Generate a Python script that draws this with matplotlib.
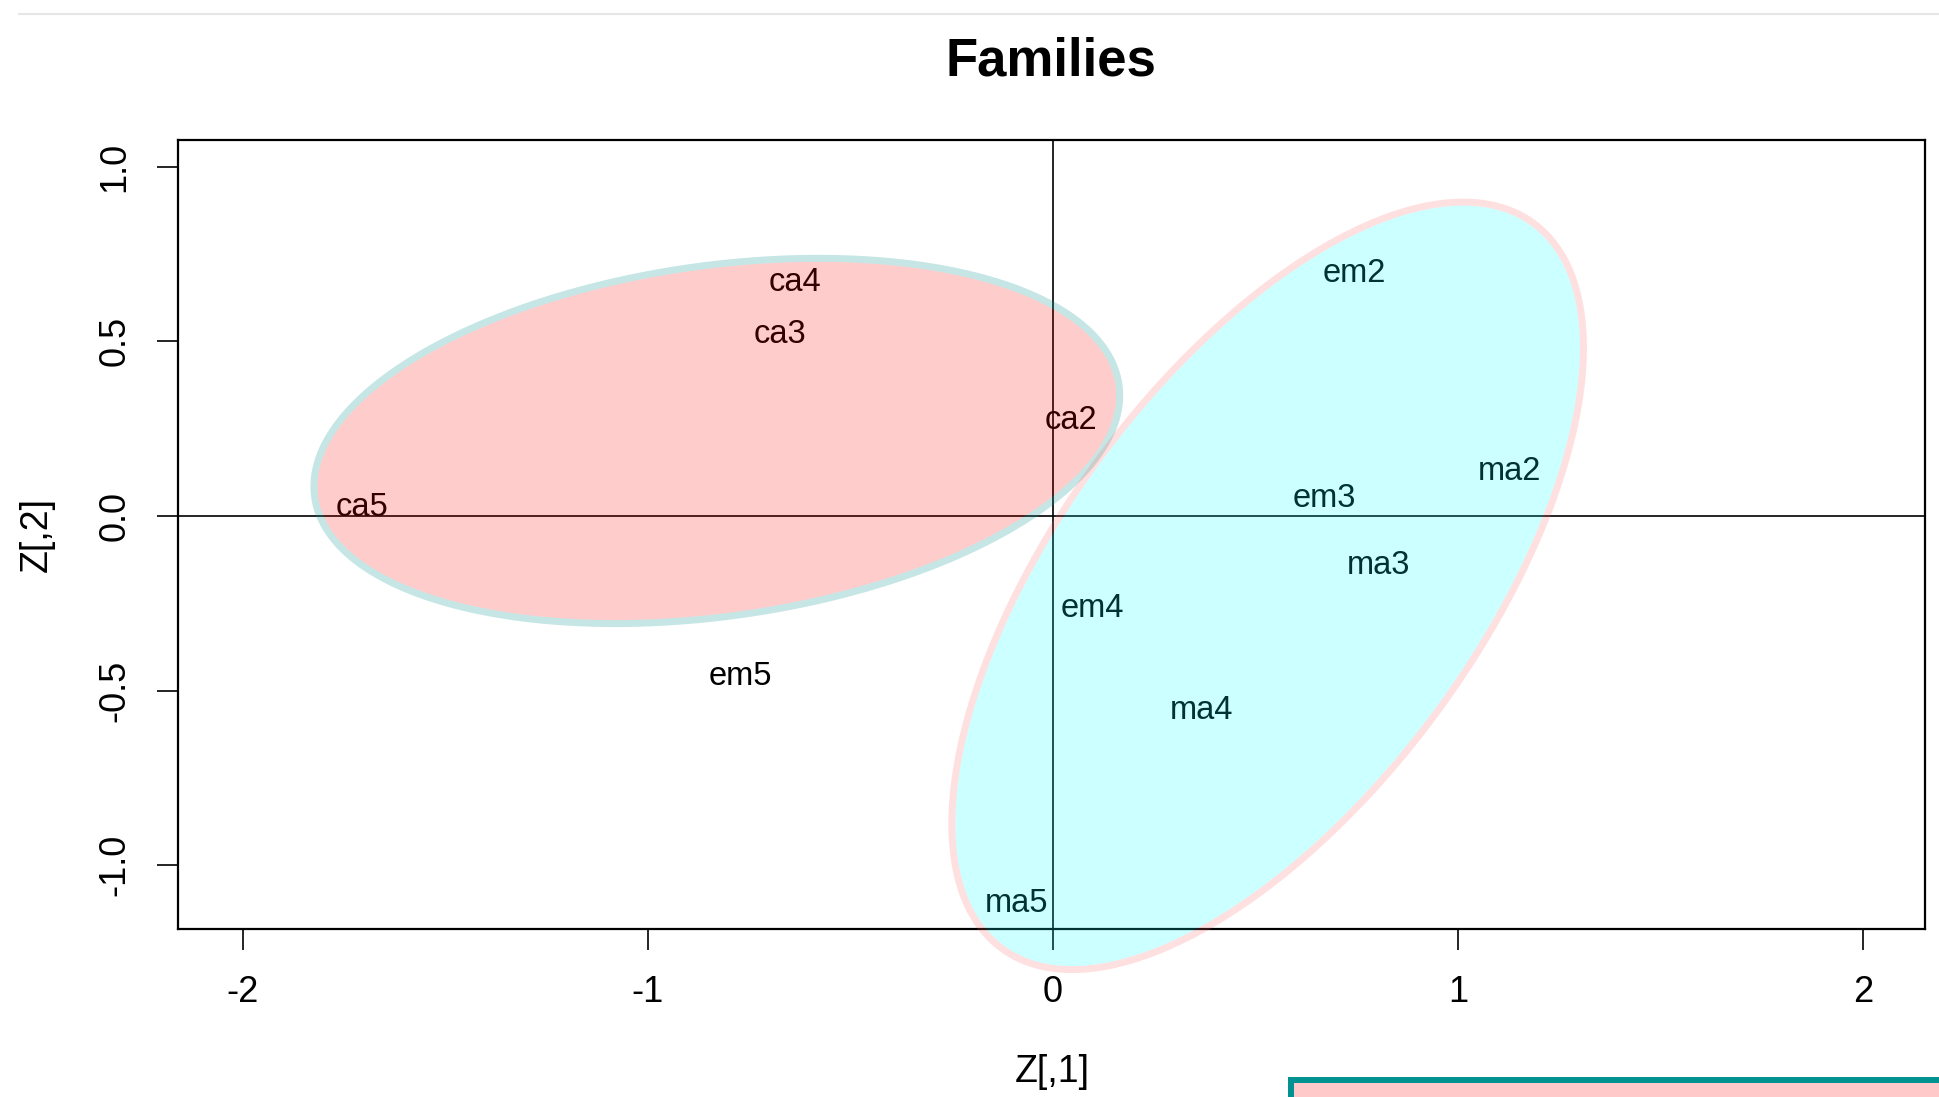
import numpy as np
import matplotlib
matplotlib.use("Agg")
import matplotlib.pyplot as plt
from matplotlib.patches import Polygon, Rectangle, PathPatch
from matplotlib.path import Path
from matplotlib.lines import Line2D

plt.rcParams['font.family'] = ['Liberation Sans', 'DejaVu Sans']
plt.rcParams['axes.unicode_minus'] = False

# first two coordinates of each sample
names = ['ca2', 'ca3', 'ca4', 'ca5', 'em2', 'em3', 'em4', 'em5', 'ma2', 'ma3', 'ma4', 'ma5']
z1 = [0.045, -0.674, -0.636, -1.705, 0.745, 0.669, 0.097, -0.773, 1.127, 0.803, 0.366, -0.089]
z2 = [0.273, 0.521, 0.670, 0.025, 0.695, 0.050, -0.265, -0.461, 0.128, -0.142, -0.556, -1.109]

# family ellipses: centre, half extent along each axis, correlation
ell_center = [(-0.83, 0.215), (0.53, -0.20)]
ell_half = [(0.986, 0.513), (0.771, 1.089)]
ell_rho = [0.254, 0.626]
ell_fill = [(1, 0, 0, 0.2), (0, 1, 1, 0.2)]
ell_edge = [(0.11, 0.61, 0.61, 0.25), (1, 0.4, 0.4, 0.2)]

xticks = [-2, -1, 0, 1, 2]
yticks = [-1.0, -0.5, 0.0, 0.5, 1.0]

fig = plt.figure(figsize=(19.4, 10.97), dpi=100)
ax = fig.add_axes([0.0918, 0.1531, 0.9005, 0.7193])
ax.set_xlim(-2.160, 2.153)
ax.set_ylim(-1.183, 1.077)

ax.axhline(0, color='black', lw=1.2, zorder=1)
ax.axvline(0, color='black', lw=1.2, zorder=1)

for nm, x, y in zip(names, z1, z2):
    ax.text(x, y, nm, ha='center', va='center', fontsize=23.5, zorder=2)

ring_px = 7.0
t = np.linspace(0, 2 * np.pi, 721)
for (cx, cy), (hx, hy), rho, fc, ec in zip(ell_center, ell_half, ell_rho, ell_fill, ell_edge):
    ex = cx + hx * np.cos(t)
    ey = cy + hy * (rho * np.cos(t) + np.sqrt(1 - rho ** 2) * np.sin(t))
    inner = np.column_stack([ex, ey])
    # border band sits just outside the filled area, constant width in pixels
    px = ax.transData.transform(inner)
    d = np.gradient(px, axis=0)
    nrm = np.column_stack([d[:, 1], -d[:, 0]])
    nrm /= np.hypot(nrm[:, 0], nrm[:, 1])[:, None]
    outer = ax.transData.inverted().transform(px + ring_px * nrm)
    verts = np.vstack([outer, inner[::-1]])
    codes = np.full(len(verts), Path.LINETO)
    codes[0] = Path.MOVETO
    codes[len(outer)] = Path.MOVETO
    ring = PathPatch(Path(verts, codes), facecolor=ec, edgecolor='none',
                     zorder=4, clip_on=False)
    ax.add_patch(ring)
    ax.add_patch(Polygon(inner, closed=True, facecolor=fc, edgecolor='none',
                         zorder=4, clip_on=False))

ax.set_xticks(xticks)
ax.set_xticklabels([str(v) for v in xticks])
ax.set_yticks(yticks)
ax.set_yticklabels(['%.1f' % v for v in yticks], rotation=90, va='center')
ax.tick_params(axis='both', length=15, width=1.2, labelsize=26)
ax.tick_params(axis='x', pad=18)
ax.tick_params(axis='y', pad=18)
for s in ax.spines.values():
    s.set_linewidth(1.6)

fig.text(1051 / 1940, 1 - 62 / 1097, 'Families', ha='center', va='center',
         fontsize=38, fontweight='bold')
fig.text(1052 / 1940, 1 - 1072 / 1097, 'Z[,1]', ha='center', va='center', fontsize=27)
fig.text(37 / 1940, 1 - 535 / 1097, 'Z[,2]', ha='center', va='center',
         rotation=90, fontsize=27)

# thin rule along the top and the edge of the legend box below
fig.add_artist(Line2D([19 / 1940, 1], [1 - 14 / 1097] * 2, color='#e6e6e6', lw=1.5,
                      transform=fig.transFigure))
fig.add_artist(Rectangle((1291 / 1940, -0.05), 0.5, 0.05 + (1 - 1080 / 1097),
                         transform=fig.transFigure, facecolor='#ffc9c9',
                         edgecolor='#009191', lw=4.3))

fig.savefig('out.png', dpi=100)
